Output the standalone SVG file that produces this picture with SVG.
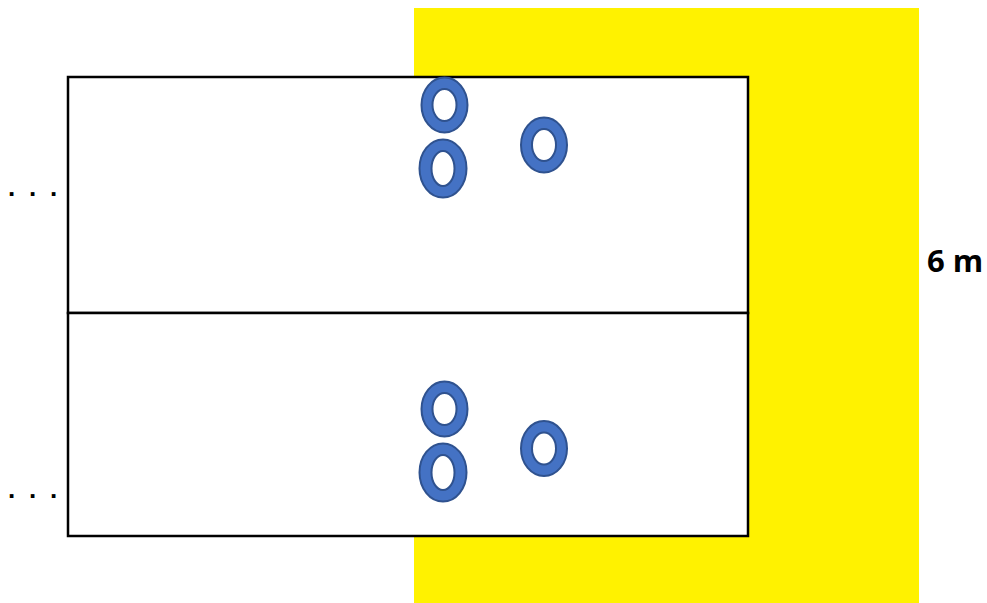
<svg xmlns="http://www.w3.org/2000/svg" width="987" height="603" viewBox="0 0 987 603">
<style>
.ring{fill:#4472C4;stroke:#2F528F;stroke-width:2;fill-rule:evenodd}
.box{fill:#fff;stroke:#000;stroke-width:2.5}
.dots{font-family:"Liberation Sans",Arial,sans-serif;font-size:26px;font-weight:bold;fill:#000}
.lbl{font-family:"Open Sans","Liberation Sans",sans-serif;font-size:31px;font-weight:bold;fill:#000}
</style>
<defs>
<path id="ringA" d="M-23,0 a23,27.5 0 1,0 46,0 a23,27.5 0 1,0 -46,0 Z M-12,0 a12,16 0 1,0 24,0 a12,16 0 1,0 -24,0 Z"/>
<path id="ringB" d="M-23.5,0 a23.5,29 0 1,0 47,0 a23.5,29 0 1,0 -47,0 Z M-11.5,0 a11.5,17.5 0 1,0 23,0 a11.5,17.5 0 1,0 -23,0 Z"/>
</defs>
<rect id="zone" x="414" y="8" width="505" height="595" fill="#FFF200"/>
<g id="top-bay">
<rect class="box" x="68" y="77" width="680" height="236"/>
</g>
<g id="bottom-bay">
<rect class="box" x="68" y="313" width="680" height="223"/>
</g>
<g id="rings-top">
<use href="#ringA" class="ring" x="444.5" y="105"/>
<use href="#ringB" class="ring" x="443" y="168.5"/>
<use href="#ringA" class="ring" x="544" y="145"/>
</g>
<g id="rings-bottom">
<use href="#ringA" class="ring" x="444.5" y="409"/>
<use href="#ringB" class="ring" x="443" y="472.5"/>
<use href="#ringA" class="ring" x="544" y="448.5"/>
</g>
<g id="labels">
<text class="dots" x="8 29 50" y="196">...</text>
<text class="dots" x="8 29 50" y="498">...</text>
<text class="lbl" x="927" y="272">6 m</text>
</g>
</svg>
